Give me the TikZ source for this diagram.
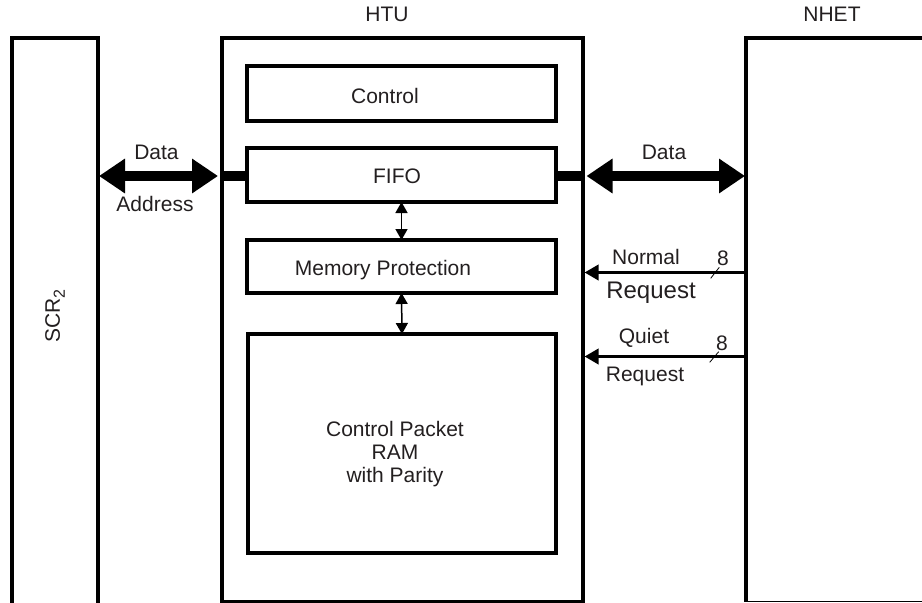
\documentclass[tikz,border=0pt]{standalone}
\usepackage{fontspec}
\setmainfont{Liberation Sans}
\usetikzlibrary{arrows.meta}
\definecolor{txt}{RGB}{35,31,32}
\begin{document}
\begin{tikzpicture}[x=1pt,y=-1pt,
  outerline/.style={line width=3.6pt},
  innerbox/.style={draw, line width=3.3pt, inner sep=0pt, outer sep=0pt},
  outerbox/.style={draw, line width=3.6pt, inner sep=0pt, outer sep=0pt},
  lbl/.style={text=txt, font=\fontsize{21}{25}\selectfont, inner sep=0pt},
  biglbl/.style={text=txt, font=\fontsize{24}{28}\selectfont, inner sep=0pt},
  bigarrow/.style={line width=10pt, {Triangle[length=26pt,width=33pt]}-{Triangle[length=26pt,width=33pt]}},
  stub/.style={line width=10pt},
  smallarrow/.style={line width=1.5pt, {Triangle[length=11pt,width=12pt]}-{Triangle[length=11pt,width=12pt]}},
  reqarrow/.style={line width=3.5pt, -{Triangle[length=14pt,width=15pt]}},
  busmark/.style={line width=0.8pt}]
\useasboundingbox (0,0) rectangle (922,603);
\fill[white] (0,0) rectangle (922,603);

% SCR2 (open bottom)
\coordinate (scrTL) at (12,38);
\coordinate (scrTR) at (98,38);
\draw[outerline] (12,606) -- (scrTL) -- (scrTR) -- (98,606);
\node[lbl, rotate=90] (scrlbl) at (55,316) {SCR\raisebox{-5pt}{\fontsize{16}{18}\selectfont 2}};

% HTU
\node[outerbox, minimum width=361pt, minimum height=564pt] (htu) at (402.5,320) {};
\node[lbl] (htulbl) at (387,14.5) {HTU};

% NHET (open right)
\coordinate (nhetTL) at (746,38);
\coordinate (nhetBL) at (746,601.5);
\draw[outerline] (930,38) -- (nhetTL) -- (nhetBL);
\draw[line width=1.5pt] (nhetBL) -- (930,601.5);
\node[lbl] (nhetlbl) at (832,14.5) {NHET};

% inner boxes
\node[innerbox, minimum width=309pt, minimum height=55pt] (ctl) at (401.5,93.5) {};
\node[lbl] (ctllbl) at (385,96) {Control};
\node[innerbox, minimum width=309pt, minimum height=54pt] (fifo) at (401.5,175) {};
\node[lbl] (fifolbl) at (397,176) {FIFO};
\node[innerbox, minimum width=309pt, minimum height=53pt] (mp) at (401.5,266.5) {};
\node[lbl] (mplbl) at (383,270) {Memory Protection};
\node[innerbox, minimum width=308pt, minimum height=219pt] (ram) at (402,443.5) {};
\node[lbl, align=center] (ramlbl) at (395,454) {Control Packet\\[-2pt]RAM\\[-2pt]with Parity};

% internal arrows
\draw[smallarrow] (fifo.south) -- (mp.north);
\draw[smallarrow] (mp.south) -- (ram.north);

% left bus
\coordinate (scrBus) at (98,176);
\coordinate (htuBusL) at (222,176);
\draw[stub] (htuBusL) -- (fifo.west |- htuBusL);
\draw[bigarrow, shorten <=1pt, shorten >=4pt] (scrBus) -- (htuBusL);
\node[lbl] (dataL) at (156.5,152) {Data};
\node[lbl] (addrL) at (155,204) {Address};

% right bus
\coordinate (htuBusR) at (583,176);
\coordinate (nhetBus) at (746,176);
\draw[stub] (fifo.east |- htuBusR) -- (htuBusR);
\draw[bigarrow, shorten <=3.5pt, shorten >=1pt] (htuBusR) -- (nhetBus);
\node[lbl] (dataR) at (664,152) {Data};

% request lines
\coordinate (nreq) at (746,272.5);
\coordinate (qreq) at (746,356.5);
\draw[reqarrow, shorten >=1.5pt] (nreq) -- (nreq -| htu.east);
\draw[reqarrow, shorten >=1.5pt] (qreq) -- (qreq -| htu.east);
\draw[busmark] (710.7,278.3) -- (719.3,267.3);
\draw[busmark] (709.7,362.3) -- (718.7,351.7);
\node[lbl] (n8) at (723,258) {8};
\node[lbl] (q8) at (722,343) {8};
\node[lbl] (normal) at (646,257) {Normal};
\node[biglbl] (nreqlbl) at (651,293) {Request};
\node[lbl] (quiet) at (644,338) {Quiet};
\node[lbl] (qreqlbl) at (645,376) {Request};
\end{tikzpicture}
\end{document}
